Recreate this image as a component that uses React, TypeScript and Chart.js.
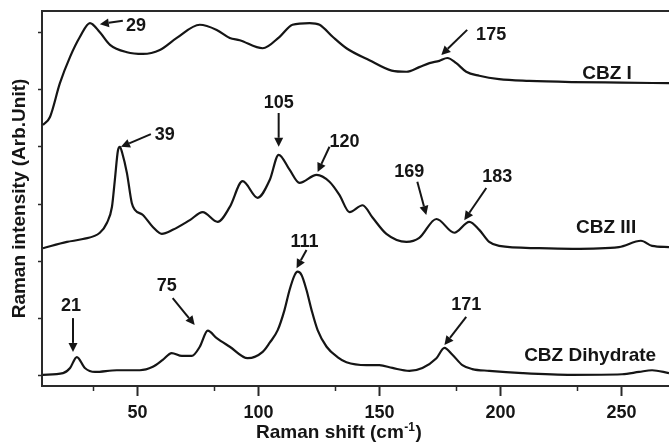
import React, { useEffect, useRef } from "react";
import { Chart, registerables } from "chart.js";

Chart.register(...registerables);

// ---------- data (Raman shift in cm-1, intensity in arbitrary stacked units) ----------
const cbzIShift = [10.9, 13.8, 17.9, 22.1, 26.2, 30.3, 34.4, 38.6, 45.6, 52.2, 59.2, 66.2, 75.7, 82.7, 88.1, 92.2, 101.7, 108.7, 114.0, 121.1, 125.2, 130.6, 136.3, 145.8, 155.0, 161.1, 166.4, 170.6, 174.7, 178.0, 181.7, 185.8, 191.2, 199.4, 211.8, 229.6, 250.0, 269.6];
const cbzIIntensity = [4.38, 4.52, 5.11, 5.57, 5.92, 6.16, 6.0, 5.78, 5.65, 5.62, 5.69, 5.9, 6.13, 6.04, 5.9, 5.86, 5.72, 5.92, 6.13, 6.16, 6.13, 5.92, 5.72, 5.51, 5.33, 5.31, 5.39, 5.46, 5.5, 5.55, 5.46, 5.31, 5.24, 5.18, 5.15, 5.13, 5.12, 5.11];

const cbzIIIShift = [10.9, 20.8, 27.4, 34.4, 37.3, 39.4, 40.6, 41.9, 42.7, 43.6, 45.6, 47.6, 48.9, 52.2, 56.3, 60.0, 64.5, 71.6, 76.9, 83.1, 88.1, 93.4, 99.6, 104.6, 108.3, 112.8, 116.9, 124.0, 129.3, 133.4, 137.6, 143.0, 147.0, 152.8, 161.1, 166.4, 173.5, 180.9, 187.1, 191.2, 195.3, 199.4, 215.9, 229.6, 248.9, 258.0, 262.6, 269.6];
const cbzIIIIntensity = [2.23, 2.34, 2.39, 2.5, 2.67, 2.95, 3.42, 3.94, 4.0, 3.9, 3.54, 3.02, 2.9, 2.81, 2.6, 2.48, 2.55, 2.72, 2.86, 2.69, 2.95, 3.4, 3.11, 3.42, 3.86, 3.6, 3.37, 3.51, 3.39, 3.16, 2.86, 2.98, 2.77, 2.48, 2.34, 2.41, 2.74, 2.5, 2.69, 2.55, 2.34, 2.27, 2.23, 2.22, 2.25, 2.36, 2.27, 2.25];

const dihydrateShift = [10.9, 19.2, 22.1, 24.9, 28.2, 32.4, 41.4, 50.9, 56.3, 60.4, 64.1, 68.3, 72.4, 75.7, 79.0, 82.7, 88.1, 95.5, 101.7, 104.6, 107.9, 110.7, 112.8, 114.9, 116.1, 117.8, 119.8, 121.9, 124.4, 128.1, 132.6, 136.3, 144.6, 149.9, 155.3, 162.3, 167.7, 173.5, 176.8, 180.1, 184.2, 188.3, 195.3, 209.1, 229.6, 250.2, 257.2, 262.6, 269.6];
const dihydrateIntensity = [0.02, 0.05, 0.14, 0.33, 0.14, 0.07, 0.1, 0.1, 0.16, 0.28, 0.4, 0.35, 0.35, 0.51, 0.79, 0.66, 0.51, 0.31, 0.42, 0.58, 0.8, 1.15, 1.5, 1.76, 1.82, 1.76, 1.5, 1.15, 0.8, 0.51, 0.33, 0.24, 0.19, 0.19, 0.14, 0.09, 0.14, 0.31, 0.49, 0.37, 0.19, 0.12, 0.09, 0.05, 0.02, 0.03, 0.07, 0.1, 0.05];

const seriesNames = ["CBZ I", "CBZ III", "CBZ Dihydrate"];
const xTickValues = [50, 100, 150, 200, 250];
const xMinorTickValues = [31.5, 81.5, 131.5, 181.5, 231.5];
const yTickValues = [0, 1, 2, 3, 4, 5, 6];

// peak annotations: label, label centre, arrow tail -> arrow tip (data coordinates)
const peakLabels = ["29", "39", "105", "120", "169", "183", "175", "21", "75", "111", "171"];
const peakLabelX = [49.3, 61.2, 108.3, 135.5, 162.3, 198.6, 196.1, 22.5, 62.1, 119.0, 185.8];
const peakLabelY = [6.13, 4.22, 4.78, 4.1, 3.58, 3.49, 5.97, 1.24, 1.59, 2.36, 1.26];
const arrowTailX = [43.9, 55.5, 108.3, 129.3, 165.6, 194.1, 186.2, 23.3, 64.5, 119.8, 185.8];
const arrowTailY = [6.2, 4.22, 4.59, 4.0, 3.39, 3.28, 6.04, 1.01, 1.36, 2.2, 1.03];
const arrowTipX = [34.4, 43.1, 108.3, 124.4, 169.3, 185.0, 175.5, 23.3, 73.6, 115.7, 176.8];
const arrowTipY = [6.14, 4.0, 4.0, 3.56, 2.81, 2.72, 5.6, 0.42, 0.89, 1.88, 0.54];

const seriesLabelX = [244.0, 243.6, 237.0];
const seriesLabelY = [5.29, 2.6, 0.37];

// ---------- styling ----------
const FONT = '"Liberation Sans", Arial, Helvetica, sans-serif';
const INK = "#151515";
const AXIS = "#2a2a2a";

const toPoints = (xs: number[], ys: number[]) => xs.map((x, i) => ({ x, y: ys[i] }));

const overlayPlugin = {
  id: "overlay",
  afterDatasetsDraw(chart: any) {
    const { ctx, chartArea, scales } = chart;
    const xs = scales.x;
    const ys = scales.y;
    ctx.save();

    // top frame line
    ctx.strokeStyle = AXIS;
    ctx.lineWidth = 2;
    ctx.beginPath();
    ctx.moveTo(chartArea.left - 1, chartArea.top);
    ctx.lineTo(chartArea.right, chartArea.top);
    ctx.stroke();

    // minor x ticks
    ctx.lineWidth = 1.5;
    for (const v of xMinorTickValues) {
      const px = Math.round(xs.getPixelForValue(v)) + 0.5;
      ctx.beginPath();
      ctx.moveTo(px, chartArea.bottom);
      ctx.lineTo(px, chartArea.bottom + 5);
      ctx.stroke();
    }

    // arrows
    ctx.strokeStyle = INK;
    ctx.fillStyle = INK;
    for (let i = 0; i < peakLabels.length; i++) {
      const x0 = xs.getPixelForValue(arrowTailX[i]);
      const y0 = ys.getPixelForValue(arrowTailY[i]);
      const x1 = xs.getPixelForValue(arrowTipX[i]);
      const y1 = ys.getPixelForValue(arrowTipY[i]);
      const ang = Math.atan2(y1 - y0, x1 - x0);
      const hl = 9;
      const hw = 4.5;
      const bx = x1 - hl * Math.cos(ang);
      const by = y1 - hl * Math.sin(ang);
      ctx.lineWidth = 2;
      ctx.beginPath();
      ctx.moveTo(x0, y0);
      ctx.lineTo(bx, by);
      ctx.stroke();
      ctx.beginPath();
      ctx.moveTo(x1, y1);
      ctx.lineTo(bx + hw * Math.sin(ang), by - hw * Math.cos(ang));
      ctx.lineTo(bx - hw * Math.sin(ang), by + hw * Math.cos(ang));
      ctx.closePath();
      ctx.fill();
    }

    // peak labels
    ctx.textAlign = "center";
    ctx.textBaseline = "middle";
    ctx.font = `bold 18px ${FONT}`;
    for (let i = 0; i < peakLabels.length; i++) {
      ctx.fillText(peakLabels[i], xs.getPixelForValue(peakLabelX[i]), ys.getPixelForValue(peakLabelY[i]) + 1);
    }

    // series labels
    ctx.font = `bold 19px ${FONT}`;
    for (let i = 0; i < seriesNames.length; i++) {
      ctx.fillText(seriesNames[i], xs.getPixelForValue(seriesLabelX[i]), ys.getPixelForValue(seriesLabelY[i]) + 1);
    }

    // x axis title with superscript
    ctx.textAlign = "left";
    ctx.textBaseline = "alphabetic";
    const base = xs.bottom - 8;
    let tx = 256;
    ctx.font = `bold 19px ${FONT}`;
    const part1 = "Raman shift (cm";
    ctx.fillText(part1, tx, base);
    tx += ctx.measureText(part1).width;
    ctx.font = `bold 12px ${FONT}`;
    const sup = "-1";
    ctx.fillText(sup, tx + 0.5, base - 7);
    tx += ctx.measureText(sup).width + 1;
    ctx.font = `bold 19px ${FONT}`;
    ctx.fillText(")", tx, base);

    ctx.restore();
  },
};

export default function App() {
  const canvasRef = useRef<HTMLCanvasElement | null>(null);

  useEffect(() => {
    if (!canvasRef.current) return;
    const mk = (label: string, xs: number[], ys: number[]) => ({
      label,
      data: toPoints(xs, ys),
      borderColor: INK,
      borderWidth: 2.2,
      pointRadius: 0,
      fill: false,
      cubicInterpolationMode: "monotone" as const,
    });
    const chart = new Chart(canvasRef.current, {
      type: "line",
      data: {
        datasets: [
          mk(seriesNames[0], cbzIShift, cbzIIntensity),
          mk(seriesNames[1], cbzIIIShift, cbzIIIIntensity),
          mk(seriesNames[2], dihydrateShift, dihydrateIntensity),
        ],
      },
      options: {
        animation: false,
        responsive: false,
        devicePixelRatio: 1,
        layout: { padding: { top: 11, right: 0, left: 0, bottom: 0 } },
        plugins: { legend: { display: false }, tooltip: { enabled: false } },
        scales: {
          x: {
            type: "linear",
            min: 10.5,
            max: 269.6,
            afterBuildTicks: (axis: any) => {
              axis.ticks = xTickValues.map((v) => ({ value: v }));
            },
            afterFit: (scale: any) => {
              scale.height = 60;
            },
            ticks: {
              autoSkip: false,
              maxRotation: 0,
              padding: 6,
              color: INK,
              font: { family: FONT, size: 18, weight: "bold" },
              callback: (v: any) => String(v),
            },
            grid: {
              drawOnChartArea: false,
              drawTicks: true,
              tickLength: 10,
              tickWidth: 2,
              tickColor: AXIS,
            },
            border: { display: true, color: AXIS, width: 2 },
          },
          y: {
            type: "linear",
            min: -0.175,
            max: 6.37,
            afterBuildTicks: (axis: any) => {
              axis.ticks = yTickValues.map((v) => ({ value: v }));
            },
            afterFit: (scale: any) => {
              scale.width = 42;
            },
            ticks: { display: false },
            grid: {
              drawOnChartArea: false,
              drawTicks: true,
              tickLength: 4,
              tickWidth: 1.5,
              tickColor: AXIS,
            },
            border: { display: true, color: AXIS, width: 2 },
            title: {
              display: true,
              text: "Raman intensity (Arb.Unit)",
              color: INK,
              font: { family: FONT, size: 19, weight: "bold" },
              padding: { top: 8, bottom: 0 },
            },
          },
        },
      },
      plugins: [overlayPlugin],
    } as any);
    return () => chart.destroy();
  }, []);

  return (
    <div style={{ position: "absolute", left: 0, top: 0, width: 669, height: 446, background: "#fff" }}>
      <canvas ref={canvasRef} width={669} height={446} style={{ display: "block" }} />
    </div>
  );
}
